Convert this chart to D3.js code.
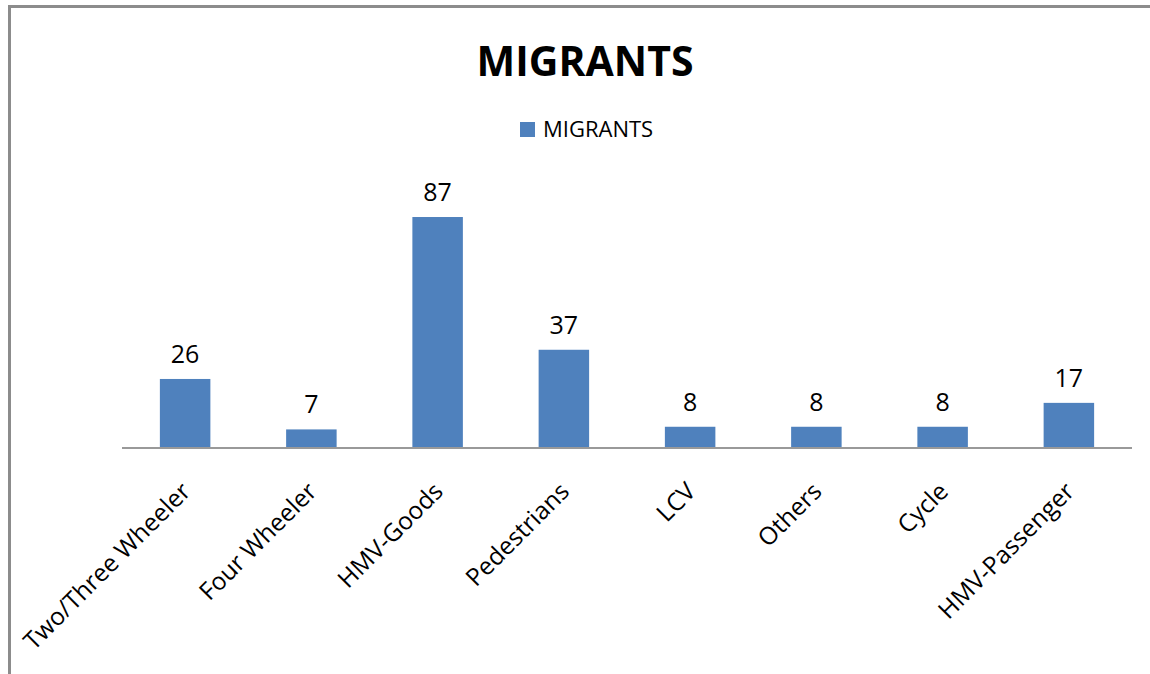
<!DOCTYPE html>
<html>
<head>
<meta charset="utf-8">
<script src="https://cdn.jsdelivr.net/npm/d3@7"></script>
<style>
	html, body { margin: 0; padding: 0; background: #fff; }
	svg { display: block; }
	text { font-family: "Open Sans", "Noto Sans", sans-serif; fill: #000; }
</style>
</head>
<body>
<svg id="chart" width="1150" height="674"></svg>
<script>

// chart data
var categories = ["Two/Three Wheeler", "Four Wheeler", "HMV-Goods", "Pedestrians", "LCV", "Others", "Cycle", "HMV-Passenger"];
var migrants = [26, 7, 87, 37, 8, 8, 8, 17];
var seriesName = "MIGRANTS";
var chartTitle = "MIGRANTS";

var barColor = "#4f81bd";

var svg = d3.select("#chart");

// outer frame (only top and left are inside the picture)
svg.append("rect")
	.attr("x", 9.5)
	.attr("y", 6.5)
	.attr("width", 1200)
	.attr("height", 700)
	.attr("fill", "none")
	.attr("stroke", "#8c8c8c")
	.attr("stroke-width", 3);

var plot = { left: 122, right: 1132, top: 182.5, bottom: 448 };

var x = d3.scaleBand()
	.domain(categories)
	.range([plot.left, plot.right])
	.paddingInner(0.6)
	.paddingOuter(0.3);

var y = d3.scaleLinear()
	.domain([0, 100])
	.range([plot.bottom, plot.top]);

// title
svg.append("text")
	.attr("x", 585)
	.attr("y", 76)
	.attr("text-anchor", "middle")
	.style("font-size", "41px")
	.style("font-weight", "bold")
	.text(chartTitle);

// legend
var legend = svg.append("g")
	.attr("transform", "translate(520, 122)");

legend.append("rect")
	.attr("width", 15)
	.attr("height", 15)
	.attr("fill", barColor);

legend.append("text")
	.attr("x", 23)
	.attr("y", 15)
	.style("font-size", "22px")
	.text(seriesName);

// bars
svg.append("g")
	.selectAll("rect")
	.data(migrants)
	.enter()
	.append("rect")
		.attr("x", function(d, i){ return x(categories[i]); })
		.attr("y", function(d){ return y(d); })
		.attr("width", x.bandwidth())
		.attr("height", function(d){ return y(0) - y(d); })
		.attr("fill", barColor);

// value labels
svg.append("g")
	.selectAll("text")
	.data(migrants)
	.enter()
	.append("text")
		.attr("x", function(d, i){ return x(categories[i]) + x.bandwidth()/2; })
		.attr("y", function(d){ return y(d) - 16; })
		.attr("text-anchor", "middle")
		.style("font-size", "25px")
		.text(function(d){ return d; });

// category axis
var xAxis = svg.append("g")
	.attr("transform", "translate(0," + plot.bottom + ")")
	.call(d3.axisBottom(x).tickSize(0).tickPadding(0));

xAxis.select(".domain")
	.attr("stroke", "#999")
	.attr("stroke-width", 2)
	.attr("d", "M" + plot.left + ",0H" + plot.right);

xAxis.selectAll(".tick text")
	.attr("x", 0)
	.attr("y", 0)
	.attr("dy", 0)
	.attr("text-anchor", "end")
	.attr("transform", "translate(7,45) rotate(-45)")
	.style("font-family", "\"Open Sans\", \"Noto Sans\", sans-serif")
	.style("font-size", "24.5px")
	.attr("fill", "#000");

</script>
</body>
</html>
